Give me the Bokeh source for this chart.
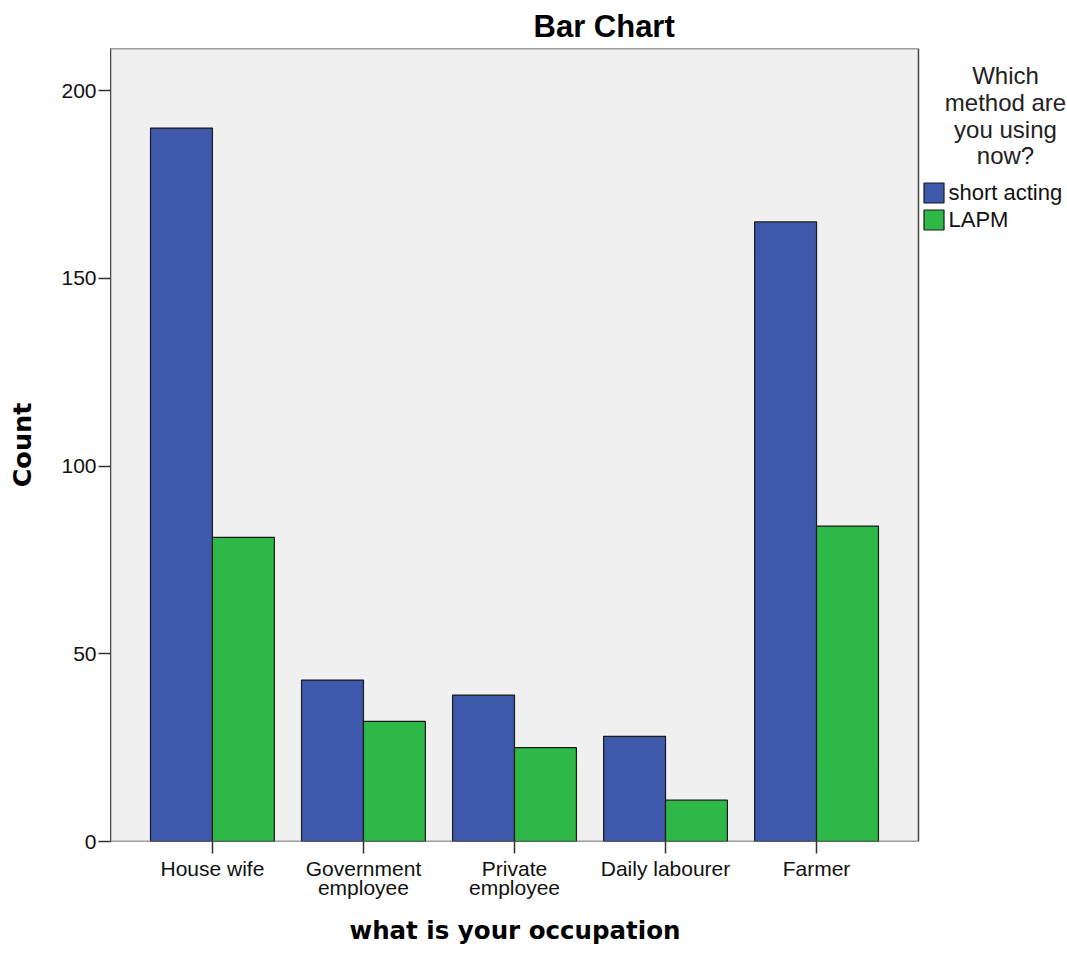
from bokeh.plotting import figure
from bokeh.models import (Range1d, FixedTicker, Legend, LegendItem, Label, ColumnDataSource,
                          BoxAnnotation, Title)
from bokeh.embed import file_html
from bokeh.resources import INLINE

categories = ["House wife", "Government\nemployee", "Private\nemployee", "Daily labourer", "Farmer"]
short_acting = [190, 43, 39, 28, 165]
lapm = [81, 32, 25, 11, 84]
series_names = ["short acting", "LAPM"]
legend_title = ["Which", "method are", "you using", "now?"]
y_ticks = [0, 50, 100, 150, 200]

xs = list(range(len(categories)))
bw = 0.41
src = ColumnDataSource(dict(
    xs=[x - bw / 2 for x in xs], xl=[x + bw / 2 for x in xs],
    s=short_acting, l=lapm))

X0, X1 = -0.675, 4.675
Y1 = 211.2
PXU = 151.0  # px per x unit
XR = X1 + (1067 - 918) / PXU

p = figure(width=1067, height=955, output_backend="svg", toolbar_location=None,
           x_range=Range1d(X0, XR), y_range=Range1d(0, Y1),
           min_border_left=110, min_border_right=0, min_border_top=48, min_border_bottom=113)
p.background_fill_color = "white"
p.border_fill_color = "white"
p.outline_line_color = None
p.xgrid.visible = False
p.ygrid.visible = False

p.add_layout(BoxAnnotation(left=X0, right=X1, bottom=0, top=Y1, fill_color="#F0F0F0",
                           fill_alpha=1, line_color=None, level="underlay"))
p.add_layout(BoxAnnotation(left=X0, right=X1, bottom=0, top=Y1, fill_alpha=0,
                           line_color="#444444", line_width=1.5, line_alpha=1))

r1 = p.vbar(x="xs", top="s", width=bw, source=src, fill_color="#3E58AC",
            line_color="#1a1a1a", line_width=1.2)
r2 = p.vbar(x="xl", top="l", width=bw, source=src, fill_color="#2EB848",
            line_color="#1a1a1a", line_width=1.2)

p.title.text = "Bar Chart"
p.title.align = "left"
p.title.offset = 423
p.title.text_font = "Liberation Sans"
p.title.text_font_size = "31px"
p.title.text_font_style = "bold"
p.title.text_color = "black"

p.xaxis.ticker = FixedTicker(ticks=xs)
p.xaxis.major_label_overrides = {i: c for i, c in enumerate(categories)}
p.yaxis.ticker = FixedTicker(ticks=y_ticks)
for ax in (p.xaxis, p.yaxis):
    ax.major_label_text_font = "Liberation Sans"
    ax.major_label_text_font_size = "21px"
    ax.major_label_text_line_height = 0.86
    ax.major_label_text_color = "#111111"
    ax.major_tick_in = 0
    ax.major_tick_out = 12
    ax.minor_tick_line_color = None
    ax.axis_line_color = "#444444"
    ax.major_tick_line_color = "#333333"
    ax.major_tick_line_width = 1.5
    ax.axis_label_text_font = "DejaVu Sans"
    ax.axis_label_text_font_style = "bold"
    ax.axis_label_text_color = "black"
p.xaxis.axis_line_color = None
p.yaxis.axis_label = "Count"
p.yaxis.axis_label_text_font_size = "25.5px"
p.xaxis.major_label_standoff = 3
p.yaxis.major_label_standoff = 2
p.yaxis.axis_label_standoff = 21

xlabel = Title(text="what is your occupation", align="left", offset=349 - 110,
               vertical_align="bottom",
               text_font="DejaVu Sans", text_font_style="bold", text_font_size="24.5px",
               text_color="black", standoff=22)
p.add_layout(xlabel, "below")

legend = Legend(items=[LegendItem(label=series_names[0], renderers=[r1]),
                       LegendItem(label=series_names[1], renderers=[r2])],
                location=(810.5, 608.5), padding=0, margin=0, spacing=1,
                glyph_width=25, glyph_height=25, label_height=25,
                label_standoff=3, border_line_color=None,
                background_fill_alpha=0,
                label_text_font="Liberation Sans", label_text_font_size="22px",
                label_text_color="#111111")
p.add_layout(legend, "center")

# legend title, centered lines
px_per_unit = (842 - 48) / Y1
for i, t in enumerate(legend_title):
    ypix = 75.5 + i * 26.7
    p.add_layout(Label(x=X1 + (1005 - 918) / PXU, y=(842 - ypix) / px_per_unit,
                       text=t, text_align="center", text_baseline="middle",
                       text_font="Liberation Sans", text_font_size="24px",
                       text_color="#222222"))

open("out.html", "w").write(file_html(p, INLINE))
